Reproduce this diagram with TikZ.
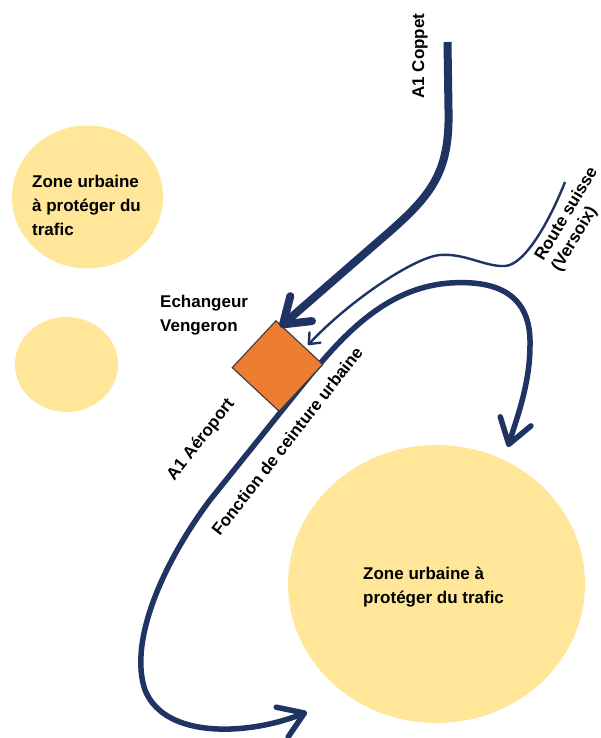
\documentclass[tikz,border=0pt]{standalone}
\usepackage{fontspec}
\setmainfont{Liberation Sans}
\usetikzlibrary{arrows.meta,shapes.geometric}
\definecolor{navy}{HTML}{1F3462}
\definecolor{zone}{HTML}{FFE699}
\definecolor{echfill}{HTML}{ED7D31}
\definecolor{echedge}{HTML}{3A3A3A}
\tikzset{
  bigbarb/.tip={Straight Barb[length=24pt,width=32pt,round]},
  hugebarb/.tip={Straight Barb[length=24pt,width=33pt,round]},
  smallbarb/.tip={Straight Barb[length=9pt,width=15pt,round]}
}
\begin{document}
\begin{tikzpicture}[x=1pt,y=-1pt,
  zonestyle/.style={ellipse, fill=zone, draw=none, inner sep=0pt},
  lbl/.style={font=\bfseries\fontsize{17}{24}\selectfont, inner sep=0pt, text=black},
  ringroad/.style={draw=navy, line width=5.5pt},
  mainroad/.style={draw=navy, line width=8pt},
  localroad/.style={draw=navy, line width=2.4pt},
  echbox/.style={rectangle, fill=echfill, draw=echedge, line width=1.1pt, minimum size=64pt, inner sep=0pt}
]
\useasboundingbox (0,0) rectangle (600,738);
\clip (0,0) rectangle (600,738);
\fill[white] (0,0) rectangle (600,738);

% zones
\node[zonestyle, minimum width=151pt, minimum height=143pt] (zoneA) at (87.5,197) {};
\node[zonestyle, minimum width=103pt, minimum height=95pt] (zoneB) at (66.5,364.5) {};
\node[zonestyle, minimum width=297pt, minimum height=278pt] (zoneC) at (436.5,584) {};

% coordinates
\coordinate (coppetStart) at (447.5,42);
\coordinate (coppetTip) at (280,327);
\coordinate (routeStart) at (565,182);
\coordinate (routeTip) at (308,345);
\coordinate (ringSouth) at (307,712);
\coordinate (ringEast) at (508,447);

% ring road (behind the interchange)
\draw[ringroad, {bigbarb}-{bigbarb}] (ringSouth) .. controls (250,735) and (165,740) .. (145,690)
   .. controls (128,640) and (165,560) .. (210,500) -- (300,388)
   .. controls (335,345) and (380,288) .. (450,283)
   .. controls (510,279) and (531,305) .. (530,345)
   .. controls (530,385) and (516,420) .. (ringEast);

% route suisse
\draw[localroad, -{smallbarb}] (routeStart) .. controls (550,220) and (525,265) .. (505,266)
   .. controls (485,267) and (465,253) .. (440,255)
   .. controls (415,257) and (350,300) .. (routeTip);

% interchange
\node[echbox, rotate=47] (ech) at (277.5,366) {};

% A1 Coppet
\draw[mainroad, -{hugebarb}] (coppetStart) -- (448.5,110) .. controls (450,175) and (430,197) .. (380,240) -- (coppetTip);

% labels
\node[lbl, align=left, anchor=north west] (zoneAtxt) at (32,174.5) {Zone urbaine\\à protéger du\\trafic};
\node[lbl, align=left, anchor=north west] (zoneCtxt) at (363,567) {Zone urbaine à\\protéger du trafic};
\node[lbl, align=left, anchor=north west] (echtxt) at (160,294.5) {Echangeur\\Vengeron};
\node[lbl, rotate=90, anchor=base] (coppettxt) at (424,56) {A1 Coppet};
\node[lbl, font=\bfseries\fontsize{17}{19.5}\selectfont, rotate=59, align=left, anchor=north west] (routetxt) at (532.5,255.7) {Route suisse\\(Versoix)};
\node[lbl, rotate=52] (aeroporttxt) at (201,440) {A1 Aéroport};
\node[lbl, rotate=52] (ringtxt) at (287,441) {Fonction de ceinture urbaine};
\end{tikzpicture}
\end{document}
